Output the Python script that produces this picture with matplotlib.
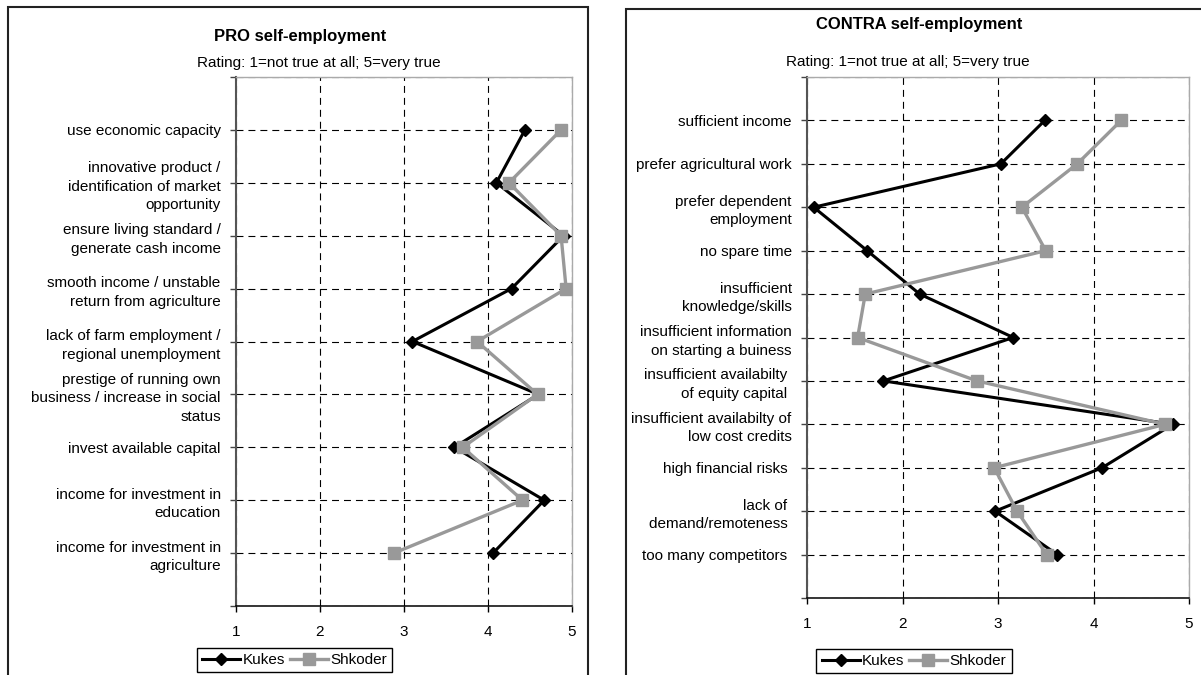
import matplotlib
matplotlib.use('Agg')
import matplotlib.pyplot as plt
from matplotlib.patches import Rectangle
from matplotlib.lines import Line2D

plt.rcParams['font.family'] = ['Liberation Sans', 'DejaVu Sans']
plt.rcParams['font.size'] = 11
plt.rcParams['lines.scale_dashes'] = False

# PRO self-employment
pro_labels = [
    "use economic capacity",
    "innovative product /\nidentification of market\nopportunity",
    "ensure living standard /\ngenerate cash income",
    "smooth income / unstable\nreturn from agriculture",
    "lack of farm employment /\nregional unemployment",
    "prestige of running own\nbusiness / increase in social\nstatus",
    "invest available capital",
    "income for investment in\neducation",
    "income for investment in\nagriculture",
]
pro_kukes = [4.44, 4.10, 4.90, 4.28, 3.10, 4.60, 3.60, 4.67, 4.06]
pro_shkoder = [4.87, 4.25, 4.87, 4.93, 3.87, 4.59, 3.70, 4.41, 2.88]

# CONTRA self-employment
contra_labels = [
    "sufficient income",
    "prefer agricultural work",
    "prefer dependent\nemployment",
    "no spare time",
    "insufficient\nknowledge/skills",
    "insufficient information\non starting a buiness",
    "insufficient availabilty \nof equity capital ",
    "insufficient availabilty of\nlow cost credits",
    "high financial risks ",
    "lack of \ndemand/remoteness ",
    "too many competitors ",
]
contra_kukes = [3.49, 3.03, 1.07, 1.63, 2.18, 3.16, 1.80, 4.83, 4.09, 2.97, 3.62]
contra_shkoder = [4.29, 3.83, 3.25, 3.50, 1.61, 1.53, 2.78, 4.75, 2.96, 3.20, 3.51]

x_ticks = [1, 2, 3, 4, 5]
series_names = ['Kukes', 'Shkoder']

W, H = 1201, 675
GRAY = '#999999'


def fx(px):
    return px / W


def fy(py):
    return 1 - py / H


def draw_panel(ax, labels, kukes, shkoder):
    n = len(labels)
    ypos = list(range(1, n + 1))
    ax.plot(kukes, ypos, color='black', lw=2.2, marker='D', ms=6,
            mfc='black', mec='black', zorder=3)
    ax.plot(shkoder, ypos, color=GRAY, lw=2.4, marker='s', ms=8.5,
            mfc=GRAY, mec=GRAY, zorder=4)
    ax.set_xlim(1, 5)
    ax.set_ylim(n + 1, 0)
    ax.set_xticks(x_ticks)
    ax.set_yticks(range(0, n + 2))
    ax.set_yticklabels([''] + labels + [''], linespacing=1.42)
    ax.grid(True, color='black', lw=0.8, linestyle=(0, (5, 3.6)))
    ax.tick_params(axis='y', direction='out', length=4, width=1,
                   color='#444444', pad=7)
    ax.tick_params(axis='x', direction='out', length=4, width=1,
                   color='black', pad=10)
    ax.spines['left'].set_color('#555555')
    ax.spines['left'].set_linewidth(1.5)
    ax.spines['bottom'].set_color('black')
    ax.spines['bottom'].set_linewidth(1.1)
    for s in ['top', 'right']:
        ax.spines[s].set_color('#aaaaaa')
        ax.spines[s].set_linewidth(1)


fig = plt.figure(figsize=(12.01, 6.75), dpi=100)

ax1 = fig.add_axes([fx(236), fy(606), fx(572 - 236), (606 - 77) / H])
draw_panel(ax1, pro_labels, pro_kukes, pro_shkoder)

ax2 = fig.add_axes([fx(807), fy(598), fx(1189 - 807), (598 - 77) / H])
draw_panel(ax2, contra_labels, contra_kukes, contra_shkoder)

# chart frames
fig.patches.append(Rectangle((fx(8), -0.1), fx(588 - 8), fy(7) + 0.1,
                             transform=fig.transFigure, fill=False,
                             edgecolor='#222222', lw=1.5))
fig.patches.append(Rectangle((fx(626), -0.1), 0.5, fy(9) + 0.1,
                             transform=fig.transFigure, fill=False,
                             edgecolor='#222222', lw=1.5))

# titles
fig.text(fx(300), fy(37), 'PRO self-employment', ha='center', va='center',
         fontsize=12, fontweight='bold')
fig.text(fx(319), fy(63), 'Rating: 1=not true at all; 5=very true',
         ha='center', va='center', fontsize=11)
fig.text(fx(919), fy(24), 'CONTRA self-employment', ha='center', va='center',
         fontsize=12, fontweight='bold')
fig.text(fx(908), fy(62), 'Rating: 1=not true at all; 5=very true',
         ha='center', va='center', fontsize=11)

# legends
handles = [
    Line2D([], [], color='black', lw=2.2, marker='D', ms=6),
    Line2D([], [], color=GRAY, lw=2.4, marker='s', ms=8.5),
]
for cx, cy in [(294.5, 660), (914, 661)]:
    leg = fig.legend(handles, series_names, loc='center',
                     bbox_to_anchor=(fx(cx), fy(cy)), ncol=2,
                     frameon=True, fancybox=False, framealpha=1,
                     edgecolor='black', handlelength=2.5, handletextpad=0.15,
                     columnspacing=0.3, borderpad=0.35, borderaxespad=0,
                     numpoints=1, fontsize=11)
    leg.get_frame().set_linewidth(1)

fig.savefig('out.png', dpi=100)
